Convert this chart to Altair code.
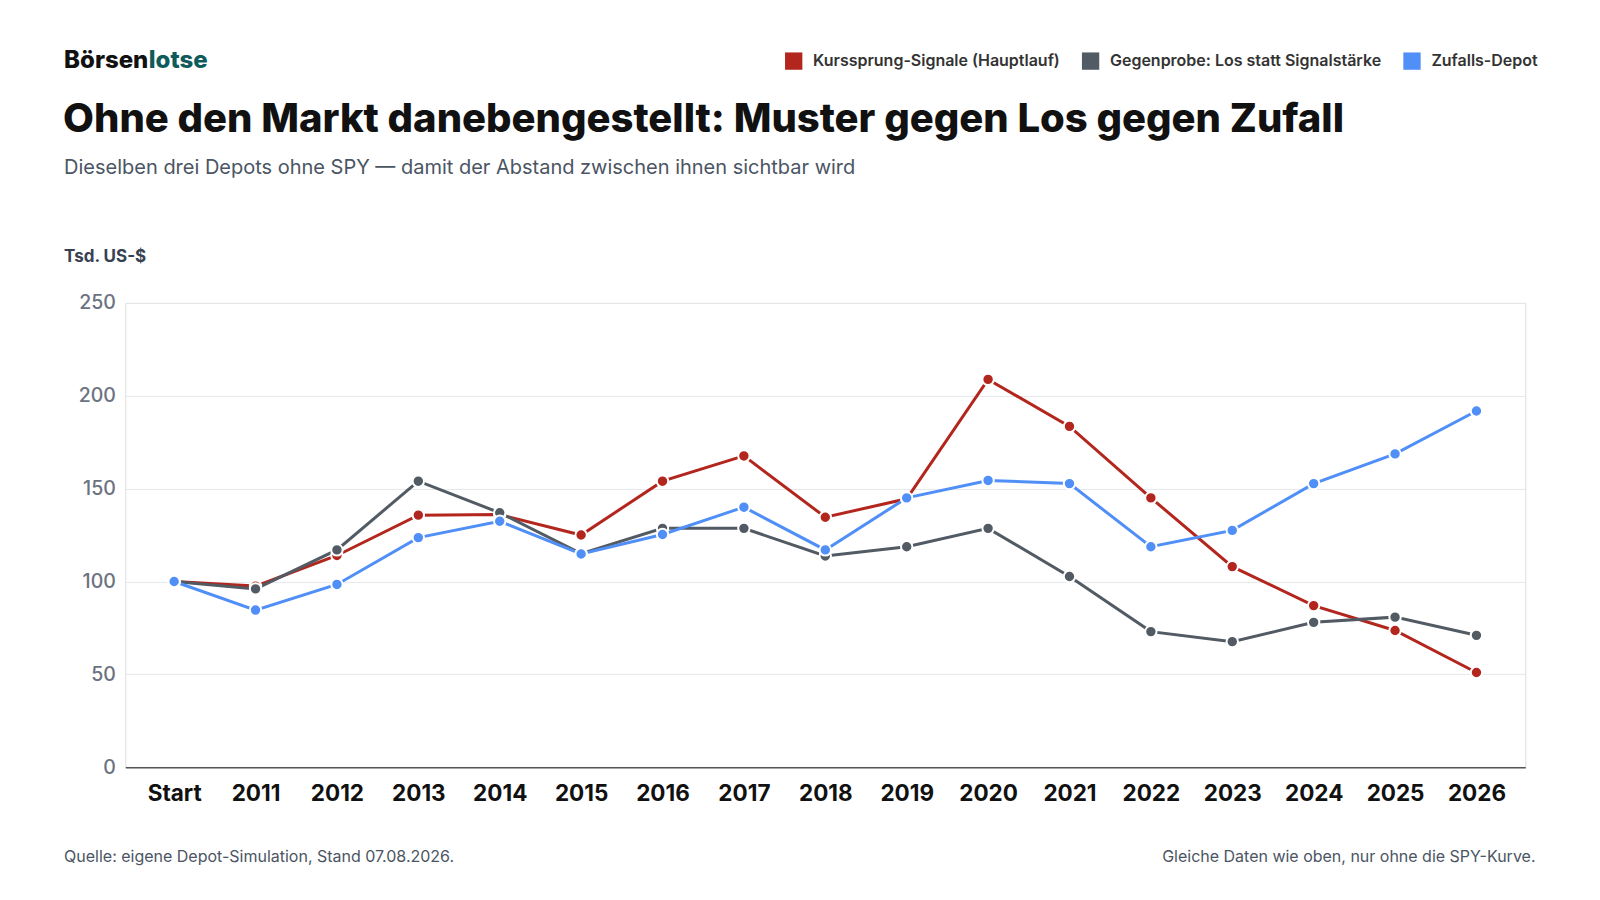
import altair as alt
import pandas as pd

jahre = ["Start", "2011", "2012", "2013", "2014", "2015", "2016", "2017", "2018",
         "2019", "2020", "2021", "2022", "2023", "2024", "2025", "2026"]
kurssprung = [100, 97.5, 114, 135.7, 136, 125, 154, 167.6, 134.6, 144.5, 208.8,
              183.5, 145, 108, 87, 73.6, 51]
gegenprobe = [100, 96, 117, 154, 137, 115, 128.6, 128.6, 113.7, 118.7, 128.6,
              102.7, 73, 67.6, 78, 80.8, 71]
zufall = [100, 84.6, 98.4, 123.6, 132.4, 114.8, 125.3, 140, 117, 145, 154.4,
          152.7, 118.7, 127.5, 152.7, 168.7, 191.8]

serien = ["Kurssprung-Signale (Hauptlauf)", "Gegenprobe: Los statt Signalstärke", "Zufalls-Depot"]
farben = ["#b3261e", "#525a63", "#4f8ff7"]

rows = []
for name, werte in zip(serien, [kurssprung, gegenprobe, zufall]):
    for j, w in zip(jahre, werte):
        rows.append({"jahr": j, "wert": w, "serie": name})
df = pd.DataFrame(rows)

FONT = "Inter"
S = 1 / 0.98


def p(v):
    return round(v * S, 1)


W, H = p(1372), p(455)

x = alt.X("jahr:N", sort=jahre, title=None,
          scale=alt.Scale(type="point", padding=0.6),
          axis=alt.Axis(labelFont=FONT, labelFontSize=22.5, labelFontWeight="bold",
                        labelColor="#111111", labelPadding=15, ticks=False,
                        domain=True, domainColor="#555555", domainWidth=1.5,
                        labelAngle=0, grid=False))
y = alt.Y("wert:Q", title=None,
          scale=alt.Scale(domain=[0, 250]),
          axis=alt.Axis(values=[0, 50, 100, 150, 200, 250], labelFont=FONT,
                        labelFontSize=19.5, labelFontWeight=500, labelColor="#6b7280",
                        ticks=False, domain=False, gridColor="#e5e7eb", labelPadding=10))
color = alt.Color("serie:N", scale=alt.Scale(domain=serien, range=farben), legend=None)

base = alt.Chart(df)
lines = base.mark_line(strokeWidth=3).encode(x=x, y=y, color=color)
points = base.mark_point(filled=True, size=130, stroke="white", strokeWidth=2,
                         opacity=1).encode(x=x, y=y, color=color)


def txt(text, px, py, size, weight="normal", col="#111111", align="left", baseline="middle"):
    return alt.Chart(pd.DataFrame({"t": [text]})).mark_text(
        font=FONT, fontSize=size, fontWeight=weight, color=col, align=align,
        baseline=baseline
    ).encode(text="t:N", x=alt.value(p(px)), y=alt.value(p(py)))


header = [
    txt("Börsen", -60, -237, 24, 800),
    txt("lotse", 23, -237, 24, 800, "#0f5a5a"),
    txt("Ohne den Markt danebengestellt: Muster gegen Los gegen Zufall", -61, -167, 40, 800,
        baseline="alphabetic"),
    txt("Dieselben drei Depots ohne SPY — damit der Abstand zwischen ihnen sichtbar wird",
        -60, -132, 20, "normal", "#4b5563"),
    txt("Tsd. US-$", -60, -45, 17, "bold", "#374151"),
    txt("Quelle: eigene Depot-Simulation, Stand 07.08.2026.", -60, 543, 16, "normal", "#4b5563"),
    txt("Gleiche Daten wie oben, nur ohne die SPY-Kurve.", 1382, 543, 16, "normal", "#4b5563",
        align="right"),
]
legend_x = [(655, 674), (946, 965), (1261, 1280)]
for (sx, tx), name, f in zip(legend_x, serien, farben):
    header.append(alt.Chart(pd.DataFrame({"t": [name]})).mark_square(
        size=300, color=f, opacity=1, cornerRadius=3).encode(x=alt.value(p(sx)), y=alt.value(p(-237))))
    header.append(txt(name, tx, -237, 16, 600, "#333333"))

chart = alt.layer(lines, points, *header).properties(
    width=W, height=H,
    autosize=alt.AutoSizeParams(type="none"),
    padding={"left": p(115), "top": p(289), "right": 40, "bottom": 120},
).configure_view(strokeWidth=0).configure(background="white")

chart.save("out.html", embed_options={"renderer": "svg", "actions": False})
